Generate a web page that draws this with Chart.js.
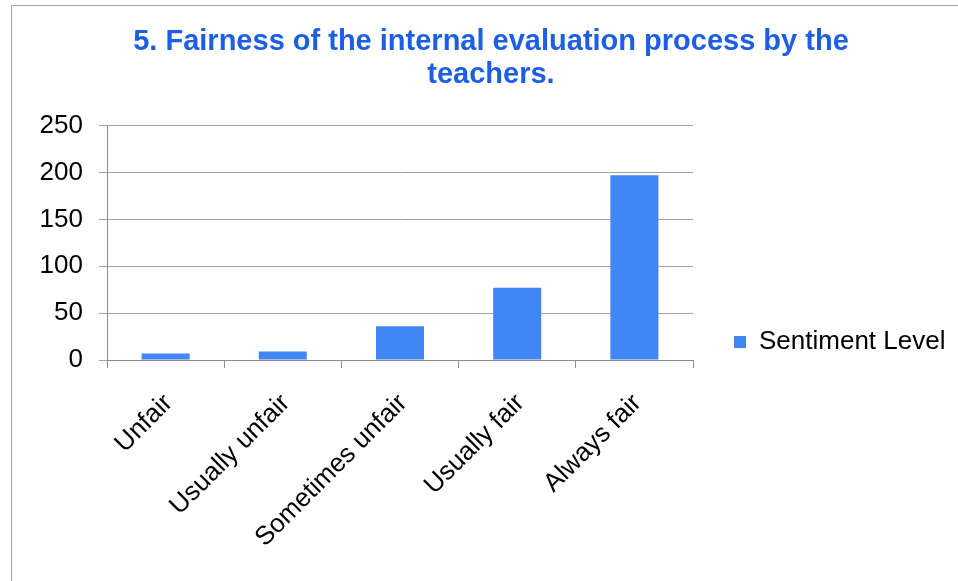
<!DOCTYPE html>
<html>
<head>
<meta charset="utf-8">
<script src="https://cdn.jsdelivr.net/npm/chart.js@4/dist/chart.umd.min.js"></script>
<style>
html,body{margin:0;padding:0;background:#fff;}
#wrap{width:958px;height:581px;position:relative;}
</style>
</head>
<body>
<div id="wrap"><canvas id="c" width="958" height="581"></canvas></div>
<script>
const categories = ["Unfair", "Usually unfair", "Sometimes unfair", "Usually fair", "Always fair"];
const sentimentLevel = [7, 9, 36, 77, 197];
const seriesName = "Sentiment Level";
const titleLines = ["5. Fairness of the internal evaluation process by the", "teachers."];
const yTicks = [0, 50, 100, 150, 200, 250];

const FONT = "'Liberation Sans', Arial, sans-serif";

const framePlugin = {
  id: 'frame',
  beforeDraw(chart) {
    const ctx = chart.ctx;
    ctx.save();
    ctx.fillStyle = '#ffffff';
    ctx.fillRect(0, 0, chart.width, chart.height);
    ctx.strokeStyle = '#a6a6a6';
    ctx.lineWidth = 1;
    ctx.strokeRect(11.5, 5.5, 2000, 2000);
    ctx.restore();
  }
};

// nudge the title and legend boxes to where the reference places them
const placePlugin = {
  id: 'place',
  afterLayout(chart) {
    const t = chart.titleBlock;
    if (t) {
      const dxT = 491 - (t.left + t.right) / 2;
      t.left += dxT; t.right += dxT;
    }
    const lg = chart.legend;
    if (lg) {
      const dx = 734 - (lg.left + lg.options.labels.padding);
      lg.left += dx; lg.right += dx;
      lg.top += 7; lg.bottom += 7;
    }
  }
};

new Chart(document.getElementById('c'), {
  type: 'bar',
  data: {
    labels: categories,
    datasets: [{
      label: seriesName,
      data: sentimentLevel,
      backgroundColor: '#4285F4',
      borderWidth: 0,
      barPercentage: 0.41,
      categoryPercentage: 1.0
    }]
  },
  options: {
    responsive: false,
    animation: false,
    layout: { padding: { left: 24, right: 42, top: 0, bottom: 0 } },
    plugins: {
      title: {
        display: true,
        text: titleLines,
        color: '#1c5fe4',
        font: { family: FONT, size: 29, weight: 'bold', lineHeight: 1.15 },
        padding: { top: 25, bottom: 34 }
      },
      legend: {
        display: true,
        position: 'right',
        align: 'end',
        fullSize: false,
        labels: {
          boxWidth: 12,
          boxHeight: 12,
          color: '#000',
          font: { family: FONT, size: 26 },
          padding: 12
        }
      },
      tooltip: { enabled: false }
    },
    scales: {
      x: {
        grid: { drawOnChartArea: false, drawTicks: true, tickLength: 8, color: '#8c8c8c', offset: true },
        border: { color: '#8c8c8c' },
        ticks: {
          color: '#000',
          font: { family: FONT, size: 26 },
          maxRotation: 45,
          minRotation: 45,
          padding: 20,
          labelOffset: 3
        },
        afterFit(scale) { scale.height = 221; }
      },
      y: {
        min: 0,
        max: 250,
        afterBuildTicks(scale) { scale.ticks = yTicks.map(v => ({ value: v })); },
        grid: { color: '#a0a0a0', tickLength: 8 },
        border: { color: '#8c8c8c' },
        ticks: {
          color: '#000',
          font: { family: FONT, size: 26 },
          padding: 16
        },
        afterFit(scale) { scale.width = 83; }
      }
    }
  },
  plugins: [framePlugin, placePlugin]
});
</script>
</body>
</html>
